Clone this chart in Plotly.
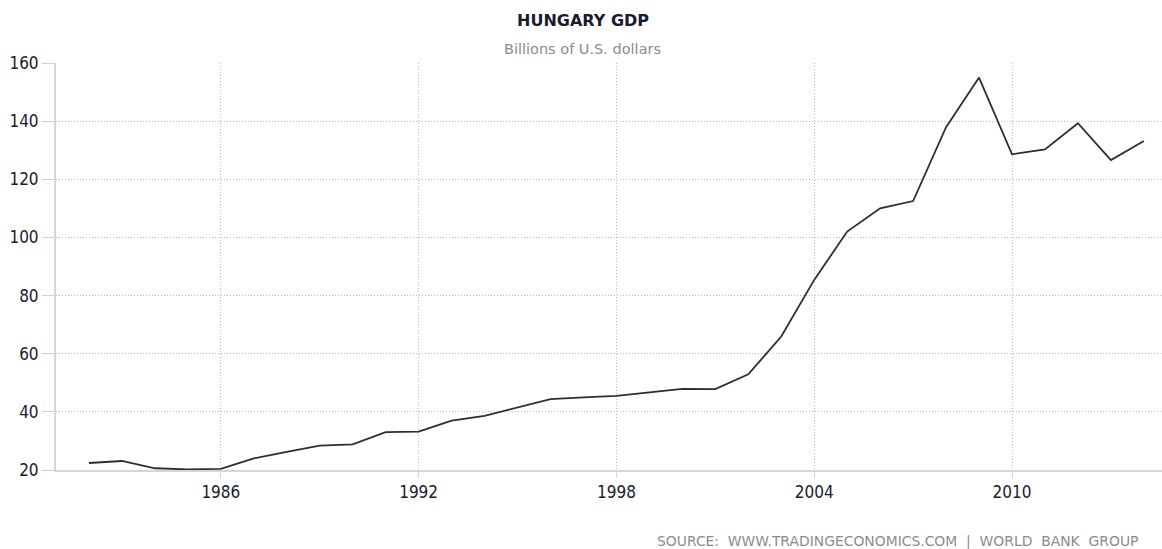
import plotly.graph_objects as go

years = list(range(1982, 2015))
gdp = [22.4, 23.1, 20.6, 20.2, 20.4, 24.0, 26.2, 28.4, 28.8, 33.0,
       33.2, 37.0, 38.6, 41.4, 44.4, 45.0, 45.5, 46.7, 47.9, 47.8,
       52.9, 65.9, 85.4, 102.0, 110.0, 112.5, 137.9, 155.0, 128.6, 130.3,
       139.3, 126.6, 133.2]
x_ticks = [1986, 1992, 1998, 2004, 2010]
y_ticks = [20, 40, 60, 80, 100, 120, 140, 160]

title = "HUNGARY GDP"
subtitle = "Billions of U.S. dollars"
source = "SOURCE:  WWW.TRADINGECONOMICS.COM  |  WORLD  BANK  GROUP"

W, H = 1162, 549
l, r, t, b = 56, 0, 63, 79

font_family = "DejaVu Sans Condensed, DejaVu Sans, Verdana, sans-serif"
tick_font = dict(size=17, color="#1a1a30", family=font_family)

fig = go.Figure()
fig.add_trace(go.Scatter(x=years, y=gdp, mode="lines",
                         line=dict(color="#2e2e2e", width=1.8),
                         hoverinfo="x+y", showlegend=False))

fig.update_layout(
    width=W, height=H,
    margin=dict(l=l, r=r, t=t, b=b, pad=0),
    paper_bgcolor="white", plot_bgcolor="white",
    font=dict(family=font_family, color="#1a1a30"),
    xaxis=dict(range=[1981, 2014.55], tickvals=x_ticks,
               ticktext=[str(v) for v in x_ticks],
               showgrid=True, gridcolor="#bdbdbd", griddash="1px,2px", gridwidth=1,
               showline=True, linecolor="#d6d6d6", linewidth=2,
               ticks="outside", ticklen=6, tickcolor="#d6d6d6", tickwidth=1,
               tickfont=tick_font, zeroline=False, fixedrange=True),
    yaxis=dict(range=[20, 160], tickvals=y_ticks,
               showgrid=True, gridcolor="#bdbdbd", griddash="1px,2px", gridwidth=1,
               showline=True, linecolor="#d6d6d6", linewidth=2,
               ticks="outside", ticklen=12, tickcolor="#d0d0d0", tickwidth=1,
               tickfont=tick_font, zeroline=False, fixedrange=True),
)

pw, ph = W - l - r, H - t - b


def px_to_paper(xp, yp):
    return (xp - l) / pw, (H - b - yp) / ph


anns = []
for text, xp, yp, size, color, anchor in [
    ("<b>" + title + "</b>", 583, 21, 16, "#1a1a30", "center"),
    (subtitle, 582, 49, 14.5, "#8c8c8c", "center"),
    (source, 1140, 541, 13.9, "#8c8c8c", "right"),
]:
    xx, yy = px_to_paper(xp, yp)
    anns.append(dict(text=text, x=xx, y=yy, xref="paper", yref="paper",
                     showarrow=False, xanchor=anchor, yanchor="middle",
                     font=dict(size=size, color=color,
                               family="DejaVu Sans, Verdana, sans-serif")))
fig.update_layout(annotations=anns)

fig.write_html("out.html",
               config={"displayModeBar": False},
               post_script="document.body.style.margin='0';"
                           "document.body.style.overflow='hidden';")
